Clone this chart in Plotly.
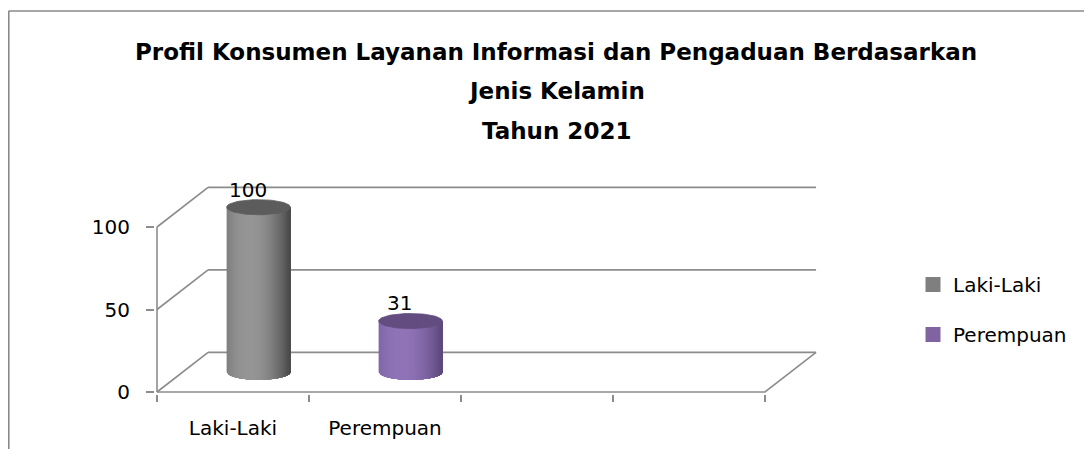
import numpy as np
import plotly.graph_objects as go

# ---- data ----
categories = ["Laki-Laki", "Perempuan", " ", "  "]
series_names = ["Laki-Laki", "Perempuan"]
values = [100, 31]
y_ticks = [0, 50, 100]
title_lines = ["Profil Konsumen Layanan Informasi dan Pengaduan Berdasarkan",
               "Jenis Kelamin",
               "Tahun 2021"]

# ---- geometry ----
# the page body adds an 8px margin, so the figure is a bit smaller than the window
OFF = 8
W, H = 1092 - 2 * OFF, 457 - 2 * OFF
# plot area in window pixels: x 155..820, y 175..394
PL, PR, PT, PB = 155, 820, 175, 394
L, R, T, B = PL - OFF, W - (PR - OFF), PT - OFF, H - (PB - OFF)
PX_X = 152      # px per category slot
PX_Y = 1.65     # px per value unit
DX, DY = 0.336, 24   # depth offset of back wall, data units
x0 = -2 / PX_X
x1 = x0 + (PR - PL) / PX_X
y0 = -2 / PX_Y
y1 = y0 + (PB - PT) / PX_Y

FONT = "DejaVu Sans, Verdana, sans-serif"
GRID = "#8c8c8c"

def px_x(px):
    return (px - PL) / (PR - PL)

def px_y(py):
    return (PB - py) / (PB - PT)

fig = go.Figure()

# ---- walls / gridlines ----
n = len(categories)
lx, ly = [], []
for v in y_ticks:
    lx += [DX, n + DX, None, 0, DX, None]
    ly += [v + DY, v + DY, None, v, v + DY, None]
lx += [0, 0, None, 0, n, n + DX, None]
ly += [0, max(y_ticks), None, 0, 0, DY, None]
fig.add_trace(go.Scatter(x=lx, y=ly, mode="lines", line=dict(color=GRID, width=1.6),
                         hoverinfo="skip", showlegend=False))

# ---- cylinders ----
shades = {
    "Laki-Laki": dict(edge=(70, 70, 70), hi=(150, 150, 150), top="#5c5c5c", legend="#7f7f7f"),
    "Perempuan": dict(edge=(90, 70, 120), hi=(144, 116, 184), top="#624c80", legend="#8064a2"),
}
RX, RY = 0.21, 4.6
NS = 40
for i, (name, v) in enumerate(zip(series_names, values)):
    s = shades[name]
    cx = i + 0.5 + DX / 2
    yb = DY / 2
    yt = v + DY / 2
    ts = np.linspace(-1, 1, NS + 1)
    for j in range(NS):
        ta, tb = ts[j], ts[j + 1]
        tm = (ta + tb) / 2
        w = max(0.0, 1 - ((tm + 0.3) / 1.3) ** 2)
        c = tuple(int(e + (h - e) * w) for e, h in zip(s["edge"], s["hi"]))
        col = "rgb(%d,%d,%d)" % c
        # each strip runs to the right edge, so later strips cover the seams
        tt = np.linspace(ta, 1, 40)
        xs = cx + RX * tt
        yo = RY * np.sqrt(np.clip(1 - tt ** 2, 0, 1))
        px = list(xs) + list(xs[::-1])
        py = list(yb - yo) + list((yt - yo)[::-1])
        fig.add_trace(go.Scatter(x=px, y=py, mode="lines", fill="toself", fillcolor=col,
                                 line=dict(width=0), hoverinfo="skip", showlegend=False))
    th = np.linspace(0, 2 * np.pi, 80)
    fig.add_trace(go.Scatter(x=cx + RX * np.cos(th), y=yt + RY * np.sin(th), mode="lines",
                             fill="toself", fillcolor=s["top"],
                             line=dict(color=s["top"], width=0.8),
                             hoverinfo="skip", showlegend=False))
    fig.add_annotation(x=cx - 0.07, y=yt + RY, text=str(v), showarrow=False,
                       yanchor="bottom", yshift=-4, font=dict(size=20, color="black", family=FONT))

# ---- legend entries ----
for name in series_names:
    fig.add_trace(go.Scatter(x=[None], y=[None], mode="markers", name=name, legendgroup=name,
                             marker=dict(symbol="square", size=15, color=shades[name]["legend"],
                                         line_width=0)))

# ---- title ----
for line, py in zip(title_lines, [52, 91, 131]):
    fig.add_annotation(xref="paper", yref="paper", x=px_x(556), y=px_y(py), text="<b>%s</b>" % line,
                       showarrow=False, yanchor="middle",
                       font=dict(size=23, color="black", family=FONT))

# ---- frame ----
shapes = [
    dict(type="line", xref="paper", yref="paper", x0=px_x(8.5), x1=px_x(1100), y0=px_y(11), y1=px_y(11),
         line=dict(color="#8a8a8a", width=1.6)),
    dict(type="line", xref="paper", yref="paper", x0=px_x(8.8), x1=px_x(8.8), y0=px_y(11), y1=px_y(470),
         line=dict(color="#8a8a8a", width=1.6)),
]

fig.update_layout(
    width=W, height=H,
    margin=dict(l=L, r=R, t=T, b=B, autoexpand=False),
    paper_bgcolor="white", plot_bgcolor="white",
    font=dict(family=FONT, size=20, color="black"),
    shapes=shapes,
    showlegend=True,
    legend=dict(x=px_x(913), y=px_y(265), xanchor="left", yanchor="top",
                font=dict(size=20), tracegroupgap=21, bgcolor="rgba(0,0,0,0)"),
    xaxis=dict(range=[x0, x1], showgrid=False, zeroline=False, showline=False,
               tickvals=[k + 0.5 for k in range(n)], ticktext=categories, ticks="",
               ticklabelstandoff=20,
               minor=dict(tickvals=list(range(n + 1)), ticks="outside", ticklen=7,
                          tickcolor=GRID, tickwidth=1.6),
               tickfont=dict(size=20), fixedrange=True),
    yaxis=dict(range=[y0, y1], showgrid=False, zeroline=False, showline=False,
               tickvals=y_ticks, ticks="outside", ticklen=8, tickcolor=GRID, tickwidth=1.6,
               ticklabelstandoff=12,
               tickfont=dict(size=20), fixedrange=True),
)

fig.write_html("out.html")
